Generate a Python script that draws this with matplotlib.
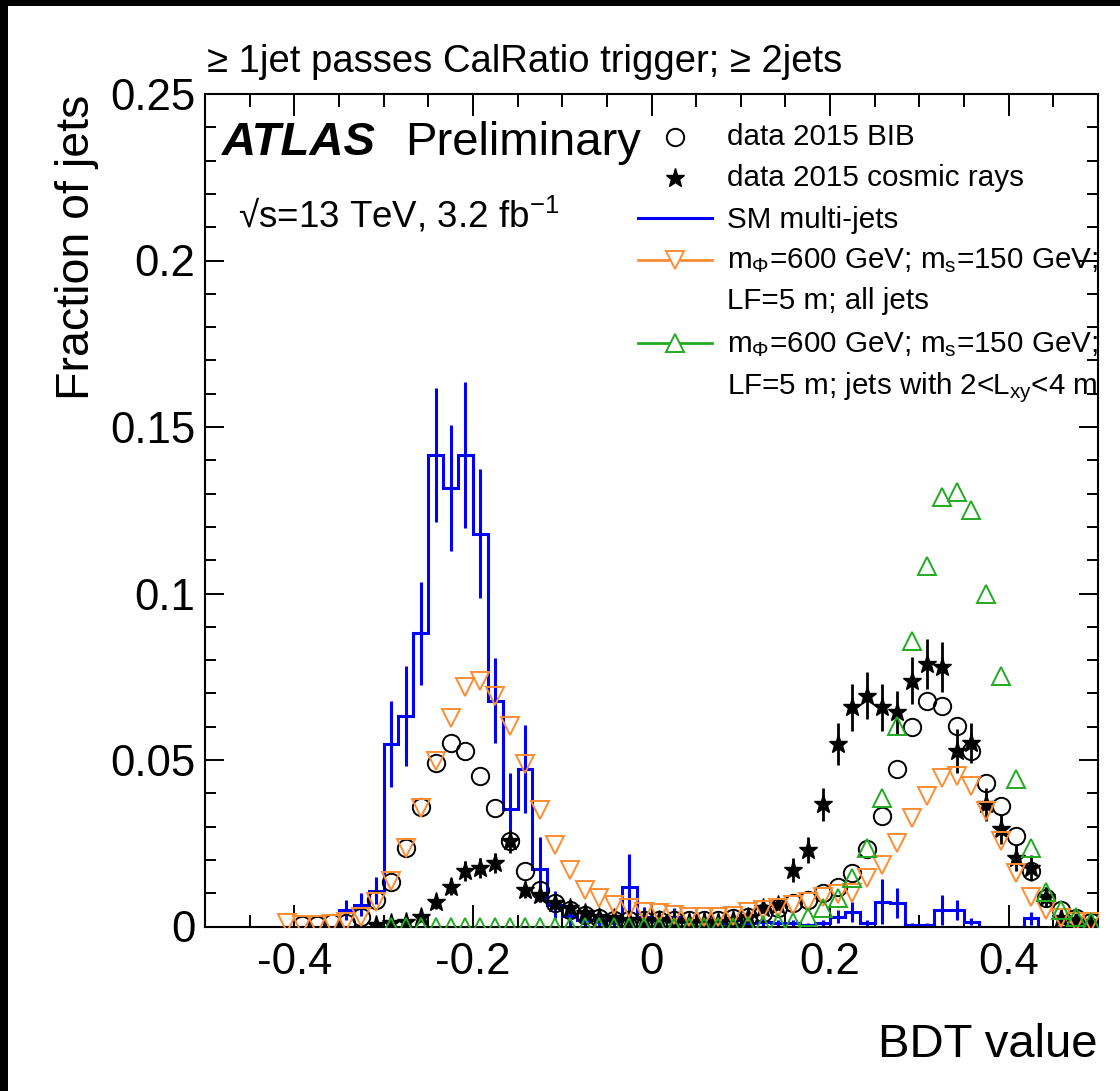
import numpy as np
import matplotlib
matplotlib.use("Agg")
from matplotlib import pyplot as plt
from matplotlib.patches import Rectangle

plt.rcParams['font.family'] = ['Liberation Sans', 'DejaVu Sans']
plt.rcParams['mathtext.fontset'] = 'custom'
plt.rcParams['mathtext.rm'] = 'Liberation Sans'
plt.rcParams['mathtext.it'] = 'Liberation Sans:italic'
plt.rcParams['mathtext.bf'] = 'Liberation Sans:bold'

# 60 bins from -0.5 to 0.5
nbins = 60
edges = np.linspace(-0.5, 0.5, nbins + 1)
centers = 0.5 * (edges[:-1] + edges[1:])
nan = np.nan

sm_multijet = [0, 0, 0, 0, 0, 0, 0, 0, 0, 0.005,
               0.0066, 0.0108, 0.0548, 0.0633, 0.088, 0.1416, 0.1317, 0.1416, 0.118, 0.0678,
               0.0352, 0.0473, 0.0172, 0.0066, 0.0033, 0.002, 0.002, 0.002, 0.012, 0.003,
               0.002, 0.003, 0.0015, 0.002, 0.001, 0.002, 0.001, 0.0015, 0.001, 0.001,
               0.0005, 0.001, 0.003, 0.0045, 0.001, 0.0075, 0.007, 0.0005, 0.0005, 0.005,
               0.005, 0.0015, 0, 0, 0, 0.0025, 0, 0, 0, 0]
sm_multijet_err = [0, 0, 0, 0, 0, 0, 0, 0, 0, 0.003,
                   0.0035, 0.004, 0.013, 0.015, 0.0155, 0.020, 0.019, 0.022, 0.0195, 0.0127,
                   0.011, 0.0133, 0.0098, 0.004, 0.003, 0.002, 0.002, 0.002, 0.0098, 0.003,
                   0.002, 0.0025, 0.0015, 0.002, 0.001, 0.002, 0.001, 0.0015, 0.001, 0.001,
                   0.0005, 0.001, 0.002, 0.003, 0.001, 0.0068, 0.0045, 0.0005, 0.0005, 0.0045,
                   0.003, 0.001, 0, 0, 0, 0.002, 0, 0, 0, 0]

bib_2015 = [nan, nan, nan, nan, nan, nan, 0.0005, 0.0005, 0.001, 0.001,
            0.003, 0.008, 0.0135, 0.0236, 0.036, 0.0492, 0.0552, 0.0527, 0.0452, 0.0356,
            0.0256, 0.0166, 0.011, 0.007, 0.005, 0.0035, 0.0025, 0.002, 0.002, 0.002,
            0.002, 0.002, 0.002, 0.002, 0.002, 0.0025, 0.003, 0.004, 0.0055, 0.007,
            0.008, 0.010, 0.012, 0.016, 0.0232, 0.0331, 0.0472, 0.060, 0.0678, 0.0663,
            0.0602, 0.0527, 0.0432, 0.0361, 0.0271, 0.0166, 0.0085, 0.005, 0.0025, 0.0015]

cosmic_2015 = [nan, nan, nan, nan, nan, nan, nan, nan, nan, nan,
               nan, 0.0005, 0.001, 0.0015, 0.003, 0.0073, 0.012, 0.0166, 0.0176, 0.019,
               0.0256, 0.011, 0.0095, 0.007, 0.0055, 0.004, 0.003, 0.0025, 0.002, 0.002,
               0.002, 0.0015, 0.0015, 0.0015, 0.0015, 0.002, 0.003, 0.0055, 0.0066, 0.017,
               0.023, 0.0367, 0.0548, 0.0658, 0.0693, 0.0658, 0.0643, 0.0738, 0.0788, 0.0778,
               0.0527, 0.0552, 0.0367, 0.0292, 0.0206, 0.0176, 0.009, 0.0025, 0.002, 0.0015]
cosmic_2015_err = [0, 0, 0, 0, 0, 0, 0, 0, 0, 0,
                   0, 0.001, 0.001, 0.001, 0.001, 0.002, 0.0025, 0.003, 0.003, 0.003,
                   0.0035, 0.0025, 0.002, 0.002, 0.0015, 0.0015, 0.0015, 0.0015, 0.0015, 0.0015,
                   0.0015, 0.0015, 0.0015, 0.0015, 0.0015, 0.0015, 0.0015, 0.0015, 0.0015, 0.0035,
                   0.004, 0.005, 0.0063, 0.007, 0.007, 0.007, 0.0065, 0.007, 0.0075, 0.0075,
                   0.0065, 0.006, 0.005, 0.0045, 0.004, 0.004, 0.003, 0.0015, 0.0015, 0.001]

sig_all_jets = [nan, nan, nan, nan, nan, 0.001, 0.0005, 0.0005, 0.0008, 0.0015,
                0.003, 0.0075, 0.0136, 0.0236, 0.0356, 0.0497, 0.0627, 0.0718, 0.0738, 0.0693,
                0.0602, 0.0487, 0.0351, 0.0246, 0.0171, 0.011, 0.0085, 0.0066, 0.0055, 0.0045,
                0.004, 0.0035, 0.003, 0.003, 0.003, 0.0032, 0.0045, 0.005, 0.0055, 0.0066,
                0.0075, 0.0088, 0.0098, 0.010, 0.0146, 0.0186, 0.0251, 0.0326, 0.0392, 0.0447,
                0.0452, 0.0422, 0.0346, 0.0256, 0.016, 0.009, 0.005, 0.0025, 0.0015, 0.0015]

sig_lxy_2_4 = [nan, nan, nan, nan, nan, nan, nan, nan, nan, nan,
               nan, nan, 0, 0, 0, 0, 0, 0, 0, 0,
               0, 0, 0, 0, 0, 0, 0, 0, 0, 0,
               0, 0, 0, 0, 0, 0, 0.0003, 0.0005, 0.001, 0.0015,
               0.003, 0.0055, 0.0085, 0.0146, 0.0236, 0.0387, 0.0602, 0.0858, 0.1084, 0.129,
               0.1305, 0.125, 0.0999, 0.0753, 0.0442, 0.0236, 0.0105, 0.005, 0.003, 0.0015]

labels = ["data 2015 BIB", "data 2015 cosmic rays", "SM multi-jets",
          r"m$_{\Phi}$=600 GeV; m$_{\mathrm{s}}$=150 GeV;", "LF=5 m; all jets",
          r"m$_{\Phi}$=600 GeV; m$_{\mathrm{s}}$=150 GeV;",
          r"LF=5 m; jets with 2<L$_{\mathrm{xy}}$<4 m"]
xtick_vals = [-0.4, -0.2, 0, 0.2, 0.4]
xtick_labels = ["-0.4", "-0.2", "0", "0.2", "0.4"]
ytick_vals = [0, 0.05, 0.1, 0.15, 0.2, 0.25]
ytick_labels = ["0", "0.05", "0.1", "0.15", "0.2", "0.25"]

blue = '#0000ff'
orange = '#ff8c33'
green = '#22aa22'

W, H = 1120, 1091
fig = plt.figure(figsize=(W / 100, H / 100), dpi=100)
fig.patch.set_facecolor('black')
fig.patches.append(Rectangle((8 / W, 0), 1 - 8 / W, 1 - 6 / H, transform=fig.transFigure,
                             facecolor='white', edgecolor='none', zorder=-10))

L, R, T, B = 205, 1098, 94, 926.5
ax = fig.add_axes([L / W, 1 - B / H, (R - L) / W, (B - T) / H])

def axx(px):
    return (px - L) / (R - L)

def axy(py):
    return (B - py) / (B - T)

# SM multi-jets histogram with errors
sm = np.array(sm_multijet)
ax.stairs(sm, edges, color=blue, lw=2.2, zorder=2)
sm_err = np.array(sm_multijet_err)
m = sm_err > 0
ax.errorbar(centers[m], sm[m], yerr=sm_err[m], fmt='none', ecolor=blue, elinewidth=2.2, zorder=2)

ax.plot(centers, bib_2015, 'o', ms=12.5, mfc='none', mec='black', mew=1.4, zorder=3)
ax.errorbar(centers, cosmic_2015, yerr=cosmic_2015_err, fmt='*', ms=14, color='black',
            ecolor='black', elinewidth=2, capsize=0, zorder=4)
ax.plot(centers, sig_all_jets, 'v', ms=12.5, mfc='none', mec=orange, mew=1.4, zorder=5)
ax.plot(centers, sig_lxy_2_4, '^', ms=12.5, mfc='none', mec=green, mew=1.4, zorder=6)

ax.set_xlim(-0.5, 0.5)
ax.set_ylim(0, 0.25)
ax.set_xticks(xtick_vals)
ax.set_xticklabels(xtick_labels)
ax.set_yticks(ytick_vals)
ax.set_yticklabels(ytick_labels)
ax.set_xticks(np.arange(-0.45, 0.5, 0.05), minor=True)
ax.set_yticks(np.arange(0, 0.25, 0.01), minor=True)
ax.tick_params(which='both', direction='in', top=True, right=True, width=1.4, labelsize=31.5)
ax.tick_params(axis='x', which='major', length=16, pad=11)
ax.tick_params(axis='x', which='minor', length=9)
ax.tick_params(axis='y', which='major', length=14, pad=7)
ax.tick_params(axis='y', which='minor', length=8)
for sp in ax.spines.values():
    sp.set_linewidth(1.5)

fig.text(207 / W, 1 - 72 / H, "\u2265 1jet passes CalRatio trigger; \u2265 2jets", fontsize=27.5,
         ha='left', va='baseline')
fig.text(1097 / W, 1 - 1057 / H, "BDT value", fontsize=34, ha='right', va='baseline')
fig.text(77 / W, 1 - 95 / H, "Fraction of jets", fontsize=33.5, rotation=90, ha='center', va='top')

ax.text(axx(222), axy(155), "ATLAS", fontsize=34, fontweight='bold', fontstyle='italic',
        transform=ax.transAxes, ha='left', va='baseline')
ax.text(axx(405), axy(155), "Preliminary", fontsize=34, transform=ax.transAxes,
        ha='left', va='baseline')
ax.text(axx(238), axy(227), "\u221as=13 TeV, 3.2 fb$^{-1}$", fontsize=26.5, transform=ax.transAxes,
        ha='left', va='baseline')

# legend drawn by hand
tx = axx(727)
mx = axx(675)
lx = [axx(638), axx(712)]
ax.plot([mx], [axy(137)], 'o', ms=12.5, mfc='none', mec='black', mew=1.4,
        transform=ax.transAxes, clip_on=False)
ax.plot([mx], [axy(178)], '*', ms=14, color='black', transform=ax.transAxes, clip_on=False)
ax.plot(lx, [axy(218)] * 2, color=blue, lw=2.2, transform=ax.transAxes, clip_on=False)
ax.plot(lx, [axy(260)] * 2, color=orange, lw=2, transform=ax.transAxes, clip_on=False)
ax.plot([mx], [axy(260)], 'v', ms=12.5, mfc='white', mec=orange, mew=1.4,
        transform=ax.transAxes, clip_on=False)
ax.plot(lx, [axy(343)] * 2, color=green, lw=2, transform=ax.transAxes, clip_on=False)
ax.plot([mx], [axy(343)], '^', ms=12.5, mfc='white', mec=green, mew=1.4,
        transform=ax.transAxes, clip_on=False)
baselines = [145, 186, 228, 268, 309, 352, 394]
for lab, yb in zip(labels, baselines):
    ax.text(tx, axy(yb), lab, fontsize=21.3, transform=ax.transAxes, ha='left', va='baseline')

fig.savefig("out.png", dpi=100, facecolor=fig.get_facecolor())
